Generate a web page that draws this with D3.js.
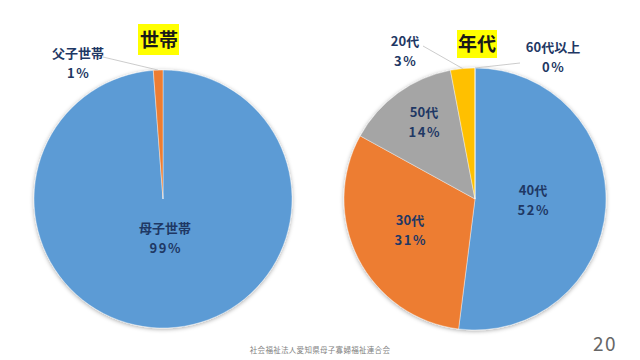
<!DOCTYPE html>
<html><head><meta charset="utf-8">
<script src="https://cdn.jsdelivr.net/npm/d3@7"></script>
<style>
html,body{margin:0;padding:0;background:#fff;}
text{font-family:"Noto Sans CJK JP","Noto Sans",sans-serif;}
</style></head>
<body><svg id="c" width="640" height="360"></svg>
<script>
// Left pie: household type
const hhCategories = ["母子世帯", "父子世帯"];
const hhValues = [98.8, 1.2];
const hhColors = ["#5B9BD5", "#ED7D31"];
// Right pie: age group
const ageCategories = ["40代", "30代", "50代", "20代", "60代以上"];
const ageValues = [52, 31, 14, 3, 0];
const ageColors = ["#5B9BD5", "#ED7D31", "#A5A5A5", "#FFC000", "#4472C4"];
const titles = ["世帯", "年代"];
const footer = "社会福祉法人愛知県母子寡婦福祉連合会";
const pageNo = "20";

const svg = d3.select("#c");
const defs = svg.append("defs");
const f = defs.append("filter").attr("id","sh").attr("x","-10%").attr("y","-10%").attr("width","120%").attr("height","120%");
f.append("feDropShadow").attr("dx",0).attr("dy",1).attr("stdDeviation",2).attr("flood-color","#000").attr("flood-opacity",0.35);

const txtColor = "#1F3864";
const pie = d3.pie().sort(null).value(d=>d.v);

function drawPie(cx, cy, r, cats, vals, cols, labelPos){
  const data = cats.map((c,i)=>({c, v:vals[i], col:cols[i], lp:labelPos[i]}));
  const arcs = pie(data);
  const g = svg.append("g").attr("transform",`translate(${cx},${cy})`);
  const arc = d3.arc().innerRadius(0).outerRadius(r);
  g.append("g").attr("filter","url(#sh)").selectAll("path").data(arcs).join("path")
    .attr("d",arc).attr("fill",d=>d.data.col).attr("stroke","#fff").attr("stroke-width",0.4);
  arcs.forEach(a=>{
    const lp = a.data.lp; if(!lp) return;
    if(lp.leader){
      const mid = (a.startAngle+a.endAngle)/2;
      const ex = Math.sin(mid)*r, ey = -Math.cos(mid)*r;
      svg.append("line").attr("x1",lp.leader[0]).attr("y1",lp.leader[1])
        .attr("x2",cx+ex).attr("y2",cy+ey).attr("stroke","#BFBFBF").attr("stroke-width",0.8);
    }
    const t = svg.append("text").attr("text-anchor","middle").attr("fill",txtColor)
      .attr("font-size",13).attr("font-weight",700);
    t.append("tspan").attr("x",lp.x).attr("y",lp.y+4.5).text(a.data.c);
    t.append("tspan").attr("x",lp.x+0.8).attr("y",lp.y+24.5).attr("letter-spacing",1.6).text(Math.round(a.data.v)+"%");
  });
}

drawPie(163, 199, 129, hhCategories, hhValues, hhColors, [
  {x:165, y:228},
  {x:78, y:53, leader:[103,57]}
]);
drawPie(475, 199, 131, ageCategories, ageValues, ageColors, [
  {x:533, y:190},
  {x:410, y:220},
  {x:424, y:112},
  {x:405, y:41, leader:[423,46]},
  {x:553, y:47, leader:[520,63]}
]);

// title boxes
[[138,24,41,31,159,40],[457,30,40,28,477,44]].forEach((b,i)=>{
  svg.append("rect").attr("x",b[0]).attr("y",b[1]).attr("width",b[2]).attr("height",b[3]).attr("fill","#FFFF00");
  svg.append("text").attr("x",b[4]).attr("y",b[5]+7).attr("text-anchor","middle")
    .attr("font-size",19).attr("font-weight",700).attr("fill","#1a1a1a").text(titles[i]);
});

svg.append("text").attr("x",320).attr("y",353).attr("text-anchor","middle")
  .attr("font-size",7.5).attr("fill","#7f7f7f").attr("letter-spacing",0.3).text(footer);
svg.append("text").attr("x",605).attr("y",350.5).attr("text-anchor","middle")
  .attr("font-size",19).attr("font-weight",400).attr("letter-spacing",1.5).attr("fill","#666666").attr("font-family","'Open Sans',sans-serif").text(pageNo);
</script></body></html>
